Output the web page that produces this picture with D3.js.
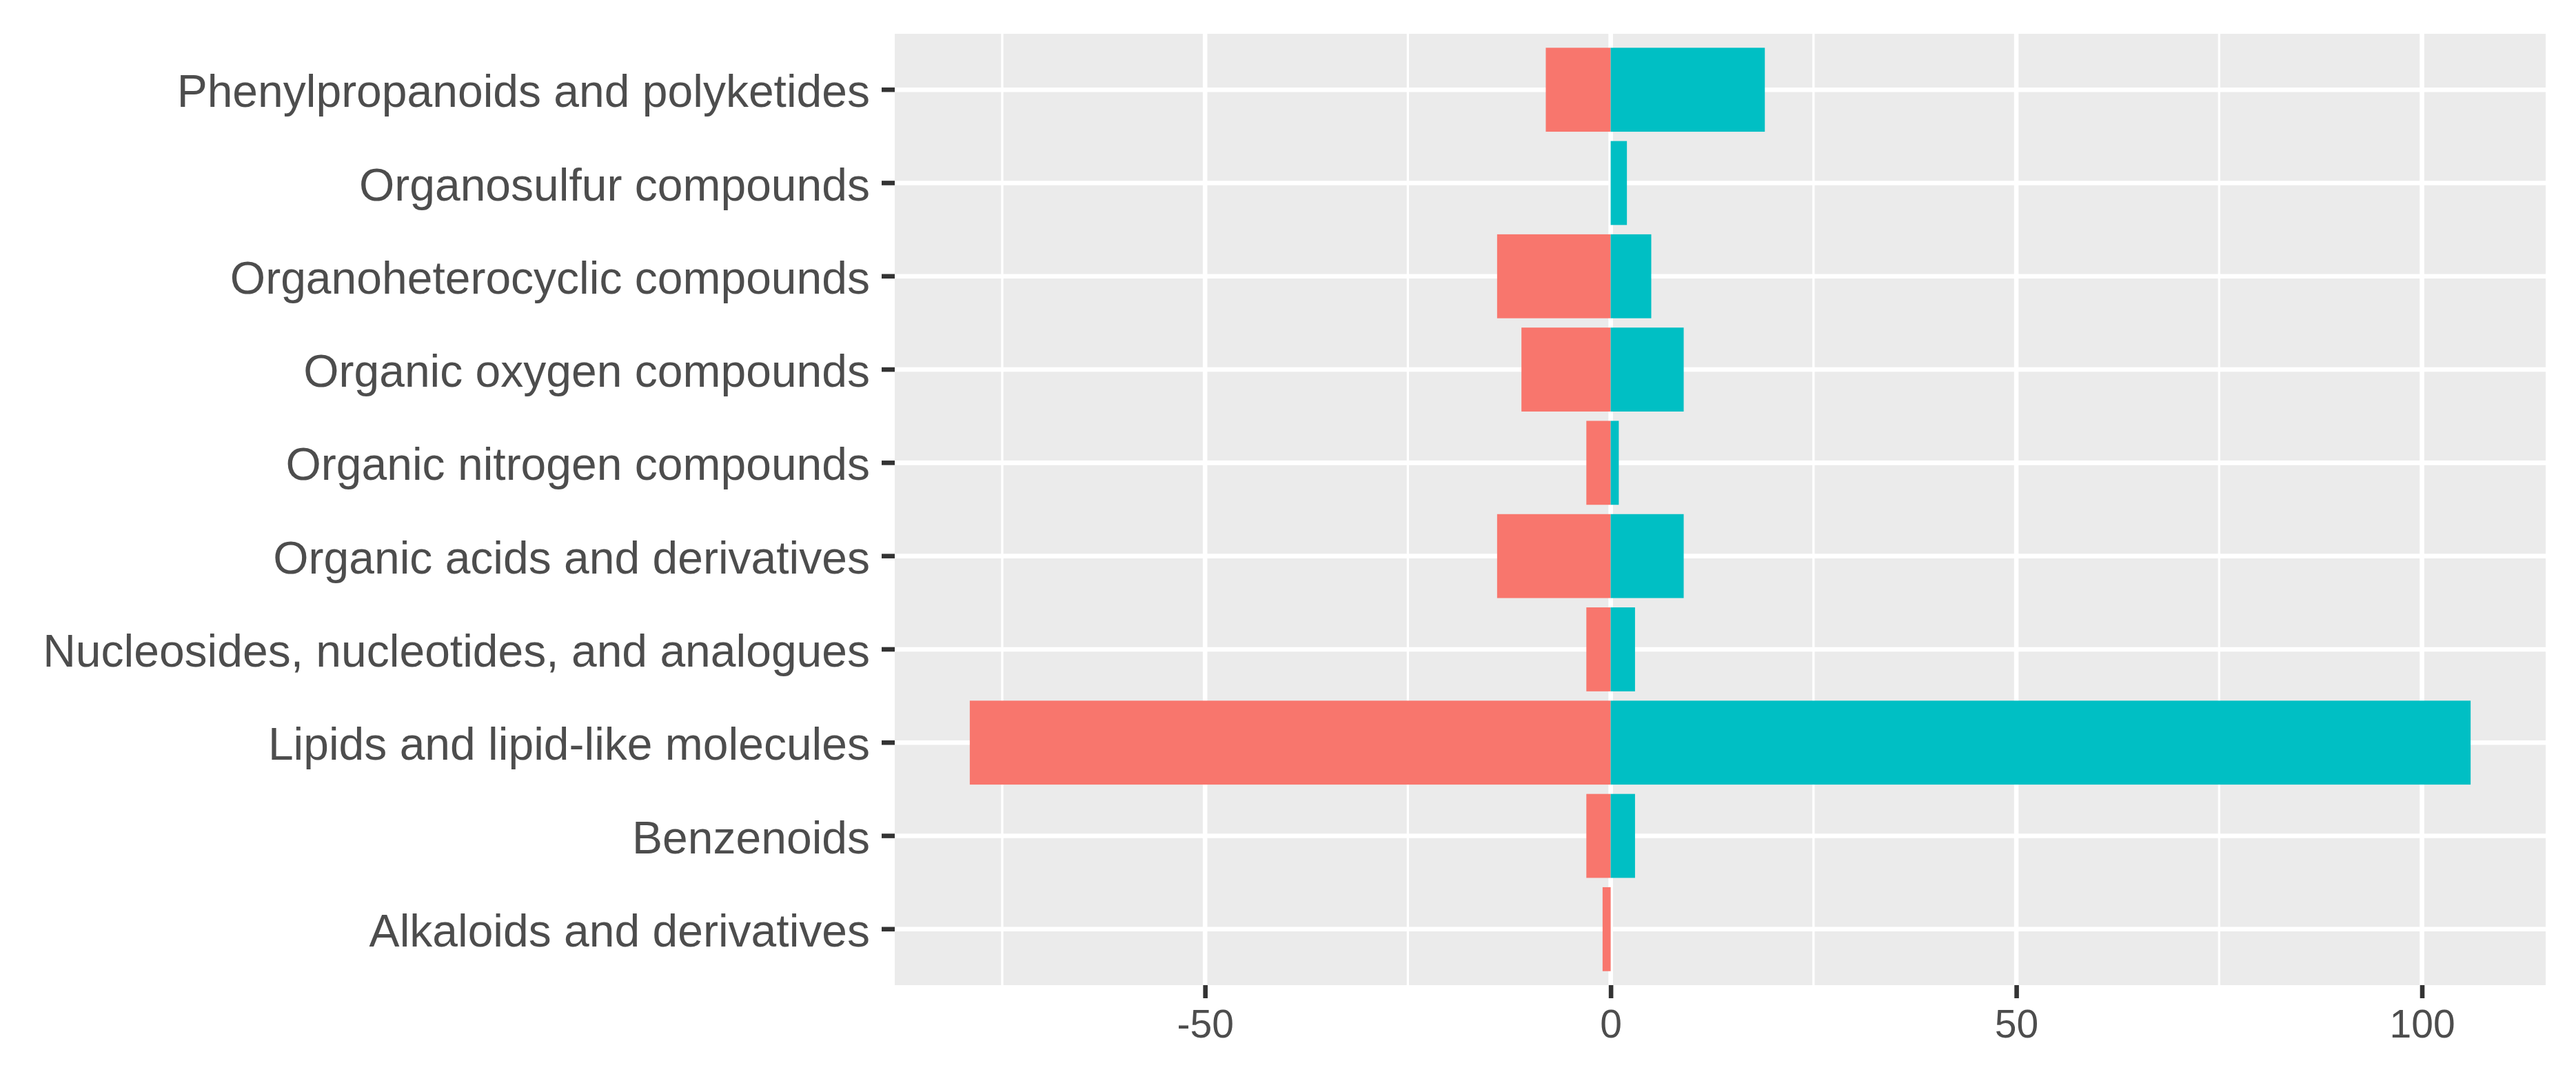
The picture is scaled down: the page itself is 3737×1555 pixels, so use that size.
<!DOCTYPE html>
<html>
<head>
<meta charset="utf-8">
<script src="https://cdn.jsdelivr.net/npm/d3@7"></script>
<style>
    html, body { margin: 0; padding: 0; background: #fff; }
    svg { display: block; }
</style>
</head>
<body>
<div id="chart"></div>
<script>
// categories, listed top to bottom as drawn
const categories = [
    "Phenylpropanoids and polyketides",
    "Organosulfur compounds",
    "Organoheterocyclic compounds",
    "Organic oxygen compounds",
    "Organic nitrogen compounds",
    "Organic acids and derivatives",
    "Nucleosides, nucleotides, and analogues",
    "Lipids and lipid-like molecules",
    "Benzenoids",
    "Alkaloids and derivatives"
];
const downValues = [-8, 0, -14, -11, -3, -14, -3, -79, -3, -1];
const upValues = [19, 2, 5, 9, 1, 9, 3, 106, 3, 0];
const majorTicks = [-50, 0, 50, 100];
const minorTicks = [-75, -25, 25, 75];

const width = 3737;
const height = 1555;
const margin = { left: 1298, right: 44, top: 49, bottom: 126 };

const red = "#F8766D";
const teal = "#00BFC4";
const panelGrey = "#EBEBEB";
const textGrey = "#4D4D4D";
const tickGrey = "#333333";
const fontFamily = "'Liberation Sans', Arial, sans-serif";

const svg = d3.select("#chart")
    .append("svg")
    .attr("width", width)
    .attr("height", height)
    .attr("viewBox", `0 0 ${width} ${height}`);

svg.append("rect")
    .attr("width", width)
    .attr("height", height)
    .attr("fill", "#fff");

// ggplot style 5% expansion on the continuous axis
const lo = d3.min(downValues);
const hi = d3.max(upValues);
const pad = (hi - lo) * 0.05;

const xScale = d3.scaleLinear()
    .domain([lo - pad, hi + pad])
    .range([margin.left, width - margin.right]);

const yScale = d3.scaleBand()
    .domain(categories)
    .range([margin.top, height - margin.bottom])
    .paddingInner(0.1)
    .paddingOuter(0.15);

// panel
svg.append("rect")
    .attr("x", margin.left)
    .attr("y", margin.top)
    .attr("width", width - margin.left - margin.right)
    .attr("height", height - margin.top - margin.bottom)
    .attr("fill", panelGrey);

svg.selectAll(".grid-minor")
    .data(minorTicks)
    .join("line")
        .attr("class", "grid-minor")
        .attr("x1", d => xScale(d))
        .attr("x2", d => xScale(d))
        .attr("y1", margin.top)
        .attr("y2", height - margin.bottom)
        .attr("stroke", "#fff")
        .attr("stroke-width", 3.3);

svg.selectAll(".grid-major-x")
    .data(majorTicks)
    .join("line")
        .attr("class", "grid-major-x")
        .attr("x1", d => xScale(d))
        .attr("x2", d => xScale(d))
        .attr("y1", margin.top)
        .attr("y2", height - margin.bottom)
        .attr("stroke", "#fff")
        .attr("stroke-width", 6.6);

svg.selectAll(".grid-major-y")
    .data(categories)
    .join("line")
        .attr("class", "grid-major-y")
        .attr("x1", margin.left)
        .attr("x2", width - margin.right)
        .attr("y1", d => yScale(d) + yScale.bandwidth() / 2)
        .attr("y2", d => yScale(d) + yScale.bandwidth() / 2)
        .attr("stroke", "#fff")
        .attr("stroke-width", 6.6);

// bars
const barData = categories.map((c, i) => ({
    category: c,
    down: downValues[i],
    up: upValues[i]
}));

svg.selectAll(".bar-down")
    .data(barData)
    .join("rect")
        .attr("class", "bar-down")
        .attr("x", d => xScale(d.down))
        .attr("y", d => yScale(d.category))
        .attr("width", d => xScale(0) - xScale(d.down))
        .attr("height", yScale.bandwidth())
        .attr("fill", red);

svg.selectAll(".bar-up")
    .data(barData)
    .join("rect")
        .attr("class", "bar-up")
        .attr("x", xScale(0))
        .attr("y", d => yScale(d.category))
        .attr("width", d => xScale(d.up) - xScale(0))
        .attr("height", yScale.bandwidth())
        .attr("fill", teal);

// axes
const xAxis = svg.append("g")
    .attr("transform", `translate(0, ${height - margin.bottom})`)
    .call(d3.axisBottom(xScale)
        .tickValues(majorTicks)
        .tickSize(19)
        .tickPadding(17)
        .tickFormat(d3.format("d")));

const yAxis = svg.append("g")
    .attr("transform", `translate(${margin.left}, 0)`)
    .call(d3.axisLeft(yScale)
        .tickSize(19)
        .tickPadding(17));

[xAxis, yAxis].forEach(ax => {
    ax.select(".domain").remove();
    ax.selectAll(".tick line")
        .attr("stroke", tickGrey)
        .attr("stroke-width", 6.6);
    ax.selectAll(".tick text")
        .attr("fill", textGrey)
        .style("font-family", fontFamily);
});

xAxis.selectAll(".tick text")
    .text(d => d < 0 ? "-" + Math.abs(d) : d)
    .style("font-size", "57px");

yAxis.selectAll(".tick text")
    .attr("dy", "0.38em")
    .style("font-size", "66px");
</script>
</body>
</html>
